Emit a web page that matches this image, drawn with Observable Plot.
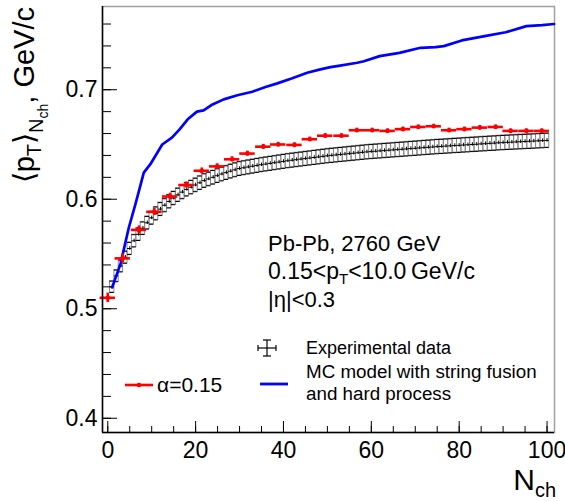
<!DOCTYPE html>
<html>
<head>
<meta charset="utf-8">
<script src="https://cdn.jsdelivr.net/npm/d3@7"></script>
<script src="https://cdn.jsdelivr.net/npm/@observablehq/plot@0.6"></script>
<style>
  body { margin: 0; background: #fff; }
  #chart svg { font-family: "Liberation Sans", Arial, sans-serif; display: block; }
</style>
</head>
<body>
<div id="chart"></div>
<script>
// ---------------- data ----------------
// Experimental data: mean pT per integer N_ch bin (1..100)
const expN = [
  1,2,3,4,5,6,7,8,9,10,11,12,13,14,15,16,17,18,19,20,
  21,22,23,24,25,26,27,28,29,30,31,32,33,34,35,36,37,38,39,40,
  41,42,43,44,45,46,47,48,49,50,51,52,53,54,55,56,57,58,59,60,
  61,62,63,64,65,66,67,68,69,70,71,72,73,74,75,76,77,78,79,80,
  81,82,83,84,85,86,87,88,89,90,91,92,93,94,95,96,97,98,99,100
];
const expMean = [
  0.520,0.530,0.539,0.547,0.555,0.562,0.568,0.5735,0.5785,0.583,
  0.587,0.591,0.5945,0.598,0.601,0.604,0.6065,0.609,0.611,0.613,
  0.615,0.617,0.6185,0.620,0.6215,0.623,0.6243,0.6256,0.6268,0.628,
  0.6287,0.6294,0.6301,0.6308,0.6315,0.6321,0.6327,0.6333,0.6339,0.6345,
  0.6351,0.6356,0.6361,0.6366,0.6371,0.6376,0.6381,0.6386,0.6391,0.6396,
  0.6400,0.6404,0.6408,0.6412,0.6416,0.6420,0.6424,0.6428,0.6432,0.6435,
  0.6438,0.6441,0.6444,0.6447,0.6450,0.6453,0.6456,0.6459,0.6462,0.6465,
  0.6468,0.6471,0.6474,0.6477,0.6480,0.6482,0.6485,0.6487,0.6490,0.6492,
  0.6495,0.6497,0.6500,0.6502,0.6505,0.6507,0.6510,0.6512,0.6515,0.6517,
  0.6519,0.6521,0.6523,0.6525,0.6527,0.6529,0.6531,0.6533,0.6535,0.6537
];
const expSysRel = 0.01;   // systematic box half-height (relative)
const expStat = 0.0016;   // statistical error half-height
const expBinHalf = 0.5;

// Model with alpha = 0.15 (red)
const alphaN = [0,3.4,7.1,10.6,14.2,17.9,21.4,24.9,28.3,31.8,35.4,38.8,42.5,46,49.5,53.2,56.7,60.2,63.7,67.2,70.7,74.2,77.7,81.2,84.7,88.3,91.7,95.3,98.8];
const alphaMean = [0.510,0.546,0.572,0.5885,0.6025,0.613,0.626,0.630,0.6365,0.6417,0.648,0.650,0.6496,0.6548,0.658,0.658,0.663,0.663,0.6624,0.664,0.666,0.6666,0.663,0.664,0.6654,0.666,0.6624,0.6624,0.6624];
const alphaErr = [0.0043,0.0041,0.0037,0.0033,0.003,0.0028,0.0026,0.0024,0.0023,0.0022,0.0021,0.002,0.002,0.002,0.002,0.0019,0.0019,0.0019,0.0019,0.0019,0.0019,0.0019,0.0019,0.0019,0.0019,0.0019,0.0019,0.0019,0.0019];
const alphaBinHalf = 1.75;

// MC model with string fusion and hard process (blue)
const mcN = [1,2.9,4.8,6.3,8.2,9.7,12.4,14.6,16.3,18.2,20.3,21.8,23.6,26.4,29.5,32.9,35.9,38.6,42,45.4,48.4,50.7,52.2,56.8,58.3,61.9,66.4,71.2,74.6,76.5,80.6,85.8,90.6,95.3,98.9,101.6];
const mcMean = [0.5195,0.541,0.5742,0.5955,0.6243,0.632,0.650,0.6562,0.6635,0.673,0.680,0.6812,0.686,0.6912,0.695,0.6982,0.7025,0.7058,0.7104,0.7155,0.7186,0.7207,0.7216,0.7246,0.726,0.7307,0.7337,0.7383,0.7389,0.7398,0.745,0.749,0.7525,0.7581,0.759,0.760];

// axes
const xDomain = [-1.2, 101.7];
const yDomain = [0.387, 0.776];
const xMajor = [0, 20, 40, 60, 80, 100];
const xMinor = [0,5,10,15,20,25,30,35,40,45,50,55,60,65,70,75,80,85,90,95,100];
const yMajor = [0.4, 0.5, 0.6, 0.7];
const yMinor = [0.40,0.42,0.44,0.46,0.48,0.50,0.52,0.54,0.56,0.58,0.60,0.62,0.64,0.66,0.68,0.70,0.72,0.74,0.76];

// ---------------- build tables ----------------
const exp = expN.map((n, i) => ({n, v: expMean[i]}));
const alpha = alphaN.map((n, i) => ({n, v: alphaMean[i], e: alphaErr[i]}));
const mc = mcN.map((n, i) => ({n, v: mcMean[i]}));

const RED = "#ff0000", BLUE = "#0000ff";
const FONT = "Liberation Sans, Arial, sans-serif";

const plot = Plot.plot({
  width: 565,
  height: 501,
  marginLeft: 102,
  marginRight: 11,
  marginTop: 6,
  marginBottom: 69,
  style: {fontFamily: FONT, background: "white", overflow: "visible"},
  x: {domain: xDomain},
  y: {domain: yDomain},
  marks: [
    Plot.frame({stroke: "#a0a0a0", strokeWidth: 1.5}),
    // experimental data: systematic boxes
    Plot.rect(exp, {x1: d => d.n - expBinHalf, x2: d => d.n + expBinHalf,
      y1: d => d.v * (1 - expSysRel), y2: d => d.v * (1 + expSysRel),
      fill: "none", stroke: "#8a8a8a", strokeWidth: 1}),
    Plot.ruleY(exp, {x1: d => d.n - expBinHalf, x2: d => d.n + expBinHalf, y: d => d.v * (1 + expSysRel), stroke: "#000", strokeWidth: 1}),
    Plot.ruleY(exp, {x1: d => d.n - expBinHalf, x2: d => d.n + expBinHalf, y: d => d.v * (1 - expSysRel), stroke: "#000", strokeWidth: 1}),
    Plot.ruleY(exp, {x1: d => d.n - expBinHalf, x2: d => d.n + expBinHalf, y: "v", stroke: "#000", strokeWidth: 1}),
    Plot.ruleX(exp, {x: "n", y1: d => d.v - expStat, y2: d => d.v + expStat, stroke: "#000", strokeWidth: 1}),
    // MC model
    Plot.line(mc, {x: "n", y: "v", stroke: BLUE, strokeWidth: 2.7}),
    // alpha = 0.15
    Plot.ruleY(alpha, {x1: d => d.n - alphaBinHalf, x2: d => d.n + alphaBinHalf, y: "v", stroke: RED, strokeWidth: 2.6}),
    Plot.ruleX(alpha, {x: "n", y1: d => d.v - d.e, y2: d => d.v + d.e, stroke: RED, strokeWidth: 2.6}),
    Plot.dot(alpha, {x: "n", y: "v", r: 2.3, fill: RED}),
    // left & bottom axis lines
    Plot.ruleX([xDomain[0]], {stroke: "#000", strokeWidth: 1.5}),
    Plot.ruleY([yDomain[0]], {stroke: "#000", strokeWidth: 1.5}),
    // inward ticks
    Plot.axisY(yMajor, {anchor: "right", frameAnchor: "left", tickSize: 14, tickFormat: () => "", label: null, stroke: "#000"}),
    Plot.axisY(yMinor, {anchor: "right", frameAnchor: "left", tickSize: 8, tickFormat: () => "", label: null, stroke: "#000"}),
    Plot.axisX(xMajor, {anchor: "top", frameAnchor: "bottom", tickSize: 12, tickFormat: () => "", label: null, stroke: "#000"}),
    Plot.axisX(xMinor, {anchor: "top", frameAnchor: "bottom", tickSize: 7, tickFormat: () => "", label: null, stroke: "#000"}),
    // tick labels
    Plot.axisY(yMajor, {anchor: "left", tickSize: 0, tickPadding: 5, tickFormat: d => d.toFixed(1), label: null, fontSize: 23, fill: "#000"}),
    Plot.axisX(xMajor, {anchor: "bottom", tickSize: 0, tickPadding: 9, label: null, fontSize: 23, fill: "#000"})
  ]
});

document.getElementById("chart").appendChild(plot);

// ---------------- titles, annotations, legend ----------------
const svg = d3.select(plot);
const g = svg.append("g").attr("font-family", FONT).attr("fill", "#000");

function rich(parent, x, y, parts, opts = {}) {
  const t = parent.append("text")
    .attr("transform", `translate(${x},${y})` + (opts.rotate ? ` rotate(${opts.rotate})` : ""))
    .attr("text-anchor", opts.anchor || "start")
    .style("font-size", (opts.size || 20) + "px");
  let cur = 0;
  for (const p of parts) {
    const s = t.append("tspan").text(p.t);
    const target = p.dy || 0;
    if (target !== cur) { s.attr("dy", target - cur); cur = target; }
    if (p.size) s.style("font-size", p.size + "px");
    if (p.dx) s.attr("dx", p.dx);
  }
  return t;
}

// y-axis title
rich(g, 34, 7, [
  {t: "\u27E8p"},
  {t: "T", size: 20, dy: 7},
  {t: "\u27E9", dy: 0},
  {t: "N", size: 20, dy: 9},
  {t: "ch", size: 14, dy: 14},
  {t: ", GeV/c", dy: 0}
], {rotate: -90, anchor: "end", size: 29});

// x-axis title
rich(g, 556, 490, [
  {t: "N"},
  {t: "ch", size: 20, dy: 7}
], {anchor: "end", size: 30});

// annotations
rich(g, 268, 251, [{t: "Pb-Pb, 2760 GeV"}], {size: 22});
rich(g, 268, 279, [
  {t: "0.15<p"},
  {t: "T", size: 15, dy: 5},
  {t: "<10.0\u2009GeV/c", dy: 0}
], {size: 23});
rich(g, 268, 307, [{t: "|\u03B7|<0.3"}], {size: 22});

// legend: experimental data
const lg = g.append("g").attr("stroke", "#000").attr("stroke-width", 1.2).attr("fill", "none");
lg.append("line").attr("x1", 258).attr("x2", 276).attr("y1", 348).attr("y2", 348);
lg.append("line").attr("x1", 258).attr("x2", 258).attr("y1", 345).attr("y2", 351);
lg.append("line").attr("x1", 276).attr("x2", 276).attr("y1", 345).attr("y2", 351);
lg.append("line").attr("x1", 267).attr("x2", 267).attr("y1", 340).attr("y2", 356);
lg.append("line").attr("x1", 263).attr("x2", 271).attr("y1", 340).attr("y2", 340);
lg.append("line").attr("x1", 263).attr("x2", 271).attr("y1", 356).attr("y2", 356);
rich(g, 306, 354, [{t: "Experimental data"}], {size: 18});

// legend: alpha
const la = g.append("g");
la.append("line").attr("x1", 125).attr("x2", 153).attr("y1", 385).attr("y2", 385).attr("stroke", RED).attr("stroke-width", 2.6);
la.append("circle").attr("cx", 139).attr("cy", 385).attr("r", 2.3).attr("fill", RED);
rich(g, 157, 392, [{t: "\u03B1=0.15"}], {size: 21});

// legend: MC model
g.append("line").attr("x1", 260).attr("x2", 288).attr("y1", 384).attr("y2", 384).attr("stroke", BLUE).attr("stroke-width", 2.8);
rich(g, 306, 378, [{t: "MC model with string fusion"}], {size: 18.8});
rich(g, 306, 400, [{t: "and hard process"}], {size: 18.8});
</script>
</body>
</html>
